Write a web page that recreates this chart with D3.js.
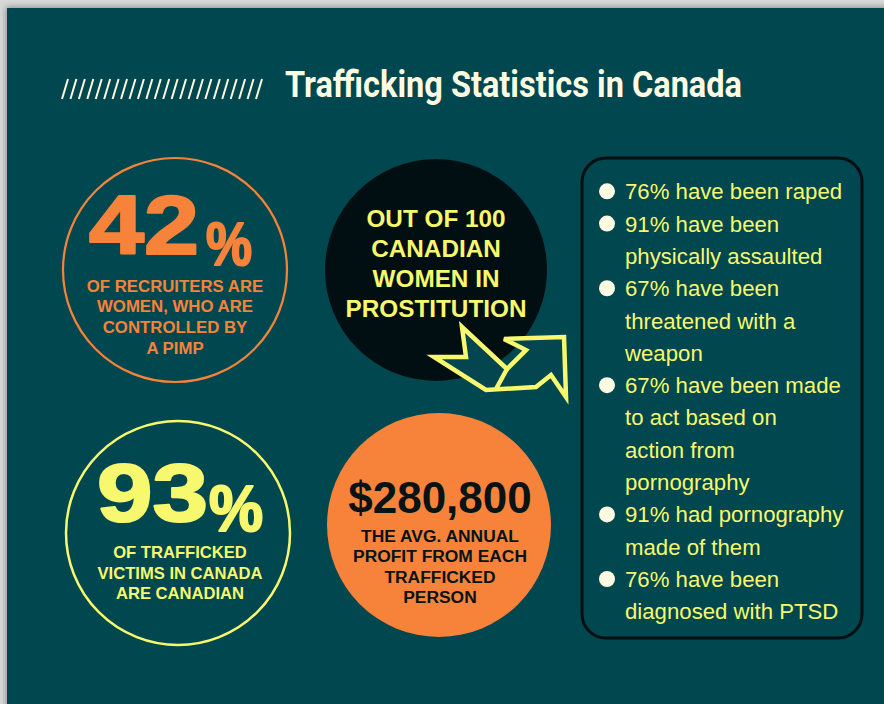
<!DOCTYPE html>
<html><head><meta charset="utf-8">
<script src="https://cdn.jsdelivr.net/npm/d3@7"></script>
<style>
html,body{margin:0;padding:0;background:#d6d6d6;overflow:hidden}
svg{display:block}
</style></head>
<body>
<svg id="chart" width="884" height="704"></svg>
<script>
// ---- data ----
const title = "Trafficking Statistics in Canada";
const statBig = ["42", "93", "$280,800"];
const statCaptions = [
  ["OF RECRUITERS ARE", "WOMEN, WHO ARE", "CONTROLLED BY", "A PIMP"],
  ["OF TRAFFICKED", "VICTIMS IN CANADA", "ARE CANADIAN"],
  ["THE AVG. ANNUAL", "PROFIT FROM EACH", "TRAFFICKED", "PERSON"]
];
const headline = ["OUT OF 100", "CANADIAN", "WOMEN IN", "PROSTITUTION"];
const bulletItems = [
  ["76% have been raped"],
  ["91% have been", "physically assaulted"],
  ["67% have been", "threatened with a", "weapon"],
  ["67% have been made", "to act based on", "action from", "pornography"],
  ["91% had pornography", "made of them"],
  ["76% have been", "diagnosed with PTSD"]
];

// ---- styles ----
const BG = "#03464f", ORANGE = "#f7833b", YELLOW = "#f8f86e", CREAM = "#fdfbe2", DARK = "#020f12";
const SANS = "'Liberation Sans', Arial, Helvetica, sans-serif";

const svg = d3.select("#chart");
const defs = svg.append("defs");
const f = defs.append("filter").attr("id","sh").attr("x","-5%").attr("y","-5%").attr("width","110%").attr("height","110%");
f.append("feDropShadow").attr("dx",-1).attr("dy",-1).attr("stdDeviation",3).attr("flood-color","#000").attr("flood-opacity",0.35);

svg.append("rect").attr("width",884).attr("height",704).attr("fill","#d8d8d8");
svg.append("rect").attr("x",7).attr("y",8).attr("width",900).attr("height",720).attr("fill",BG).attr("filter","url(#sh)");

// ---- title with hatch ----
const hatch = d3.range(24);
const hx = d3.scaleLinear().domain([0, 23]).range([62, 256]);
svg.append("g").selectAll("line").data(hatch).join("line")
  .attr("x1", d => hx(d)).attr("y1", 99)
  .attr("x2", d => hx(d) + 6).attr("y2", 79)
  .attr("stroke", CREAM).attr("stroke-width", 2);
svg.append("text").text(title)
  .attr("x", 285).attr("y", 97)
  .attr("font-family", "'Liberation Sans Narrow', 'Roboto', sans-serif")
  .attr("font-weight", "bold").attr("font-size", 37)
  .attr("textLength", 457).attr("lengthAdjust", "spacingAndGlyphs")
  .attr("fill", CREAM);

function bigText(txt, x, y, size, len, color) {
  svg.append("text").text(txt).attr("x",x).attr("y",y)
    .attr("font-family",SANS).attr("font-weight","bold").attr("font-size",size)
    .attr("textLength",len).attr("lengthAdjust","spacingAndGlyphs")
    .attr("fill",color).attr("stroke",color).attr("stroke-width",2.2).attr("stroke-linejoin","round");
}

// ---- circles ----
// circle 1: orange outline
svg.append("circle").attr("cx",175).attr("cy",270).attr("r",112)
  .attr("fill","none").attr("stroke",ORANGE).attr("stroke-width",2.2);
bigText(statBig[0], 89, 254, 83, 110, ORANGE);
bigText("%", 206, 265, 62, 46, ORANGE);
svg.append("g").selectAll("text").data(statCaptions[0]).join("text")
  .text(d => d).attr("x",175).attr("y",(d,i)=>291.5 + i*20.7)
  .attr("text-anchor","middle").attr("font-family",SANS).attr("font-weight","bold")
  .attr("font-size",16.8).attr("fill",ORANGE);

// circle 2: dark filled
svg.append("circle").attr("cx",436).attr("cy",270).attr("r",111).attr("fill",DARK);
svg.append("g").selectAll("text").data(headline).join("text")
  .text(d => d).attr("x",436).attr("y",(d,i)=>226.5 + i*30)
  .attr("text-anchor","middle").attr("font-family",SANS).attr("font-weight","bold")
  .attr("font-size",24.3).attr("fill",YELLOW);

// arrow shape (local units, scaled)
const arrowPts = [
  [0,0],[32,0],[28,-30],[73,12],[92,-7],[70,-18],[130,-20],[132,40],[117,18],[102,30],[52,33]
];
const ax = d3.scaleLinear().domain([0,130]).range([434,564]);
const ay = d3.scaleLinear().domain([-30,40]).range([327,397]);
const line = d3.line().x(d=>ax(d[0])).y(d=>ay(d[1])).curve(d3.curveLinearClosed);
svg.append("path").attr("d", line(arrowPts))
  .attr("fill", BG).attr("stroke", YELLOW).attr("stroke-width", 4.5).attr("stroke-linejoin","miter");
svg.append("path").attr("d", d3.line().x(d=>ax(d[0])).y(d=>ay(d[1]))([[73,12],[62,32]]))
  .attr("stroke", YELLOW).attr("stroke-width", 4.5).attr("fill","none");

// circle 3: yellow outline
svg.append("circle").attr("cx",178).attr("cy",533).attr("r",112)
  .attr("fill","none").attr("stroke",YELLOW).attr("stroke-width",2.5);
bigText(statBig[1], 97, 521, 81, 111, YELLOW);
bigText("%", 209, 531, 65, 54, YELLOW);
svg.append("g").selectAll("text").data(statCaptions[1]).join("text")
  .text(d => d).attr("x",180).attr("y",(d,i)=>558.3 + i*20.5)
  .attr("text-anchor","middle").attr("font-family",SANS).attr("font-weight","bold")
  .attr("font-size",16.6).attr("fill",YELLOW);

// circle 4: orange filled
svg.append("circle").attr("cx",439).attr("cy",525).attr("r",112).attr("fill",ORANGE);
svg.append("text").text(statBig[2]).attr("x",440).attr("y",513)
  .attr("text-anchor","middle").attr("font-family",SANS).attr("font-weight","bold")
  .attr("font-size",44).attr("fill","#071314");
svg.append("g").selectAll("text").data(statCaptions[2]).join("text")
  .text(d => d).attr("x",440).attr("y",(d,i)=>541.7 + i*20.5)
  .attr("text-anchor","middle").attr("font-family",SANS).attr("font-weight","bold")
  .attr("font-size",17.4).attr("fill","#071314");

// ---- bullet list box ----
svg.append("rect").attr("x",582).attr("y",158).attr("width",280).attr("height",480)
  .attr("rx",24).attr("fill","none").attr("stroke",DARK).attr("stroke-width",3);

const lines = [];
bulletItems.forEach(item => item.forEach((t, j) => lines.push({t, first: j === 0})));
const ly = d3.scaleLinear().domain([0, lines.length - 1]).range([199.3, 619.3]);
const g = svg.append("g");
g.selectAll("text").data(lines).join("text")
  .text(d => d.t).attr("x",625).attr("y",(d,i)=>ly(i))
  .attr("font-family",SANS).attr("font-size",22.2).attr("fill",YELLOW);
g.selectAll("circle").data(lines.map((d,i)=>({...d,i})).filter(d=>d.first)).join("circle")
  .attr("cx",607).attr("cy",d=>ly(d.i)-8).attr("r",8).attr("fill",CREAM);
</script>
</body></html>
